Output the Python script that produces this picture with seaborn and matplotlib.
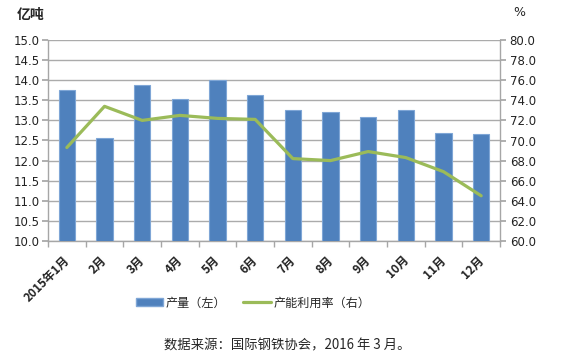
import matplotlib
matplotlib.use("Agg")
import matplotlib.pyplot as plt
import matplotlib.transforms as mtransforms
import seaborn as sns
import pandas as pd
from matplotlib.patches import Patch
from matplotlib.lines import Line2D

months = ["2015年1月", "2月", "3月", "4月", "5月", "6月", "7月", "8月", "9月", "10月", "11月", "12月"]
output = [13.75, 12.55, 13.88, 13.53, 14.0, 13.63, 13.27, 13.2, 13.08, 13.27, 12.68, 12.65]
utilization = [69.3, 73.4, 72.0, 72.5, 72.2, 72.1, 68.2, 68.0, 68.9, 68.3, 66.9, 64.5]
left_ticks = [10.0, 10.5, 11.0, 11.5, 12.0, 12.5, 13.0, 13.5, 14.0, 14.5, 15.0]
right_ticks = [60.0, 62.0, 64.0, 66.0, 68.0, 70.0, 72.0, 74.0, 76.0, 78.0, 80.0]

sns.set_theme(style="white")
plt.rcParams['font.family'] = ['Noto Sans CJK SC', 'DejaVu Sans']

df = pd.DataFrame({"month": months, "output": output, "util": utilization})

fig = plt.figure(figsize=(5.76, 3.61), dpi=100)
ax = fig.add_axes([48/576, 1-241/361, (500-48)/576, (241-40)/361])

sns.barplot(data=df, x="month", y="output", ax=ax, color="#4F81BD", width=0.43,
            edgecolor="#7FA6D6", linewidth=0.8, saturation=1, zorder=3)
ax.set_ylim(10, 15)
ax.set_xlim(-0.5, 11.5)
ax.set_yticks(left_ticks)
ax.set_yticklabels([f"{v:.1f}" for v in left_ticks], fontsize=8.5, color="#222222",
                   family=['DejaVu Sans'])
ax.yaxis.grid(True, color="#ABABAB", linewidth=1.0, zorder=0)
ax.set_axisbelow(True)
ax.set_xlabel("")
ax.set_ylabel("")

ax.set_xticks(range(12))
ax.set_xticklabels(months, rotation=45, ha="right", rotation_mode="anchor",
                   fontsize=8.5, fontweight="bold", color="#222222")
ax.tick_params(axis="x", which="major", length=0, pad=4)
offset = mtransforms.ScaledTranslation(-4/100, -7/100, fig.dpi_scale_trans)
for lbl in ax.get_xticklabels():
    lbl.set_transform(lbl.get_transform() + offset)
ax.set_xticks([i - 0.5 for i in range(13)], minor=True)
ax.tick_params(axis="x", which="minor", length=4, color="#A6A6A6", direction="out", bottom=True)
ax.tick_params(axis="y", which="major", length=4, color="#A6A6A6", left=True, pad=2)

for s in ["top", "right"]:
    ax.spines[s].set_visible(False)
for s in ["left", "bottom"]:
    ax.spines[s].set_color("#A6A6A6")
    ax.spines[s].set_linewidth(1.0)

ax2 = ax.twinx()
sns.lineplot(x=list(range(12)), y=df["util"], ax=ax2, color="#9BBB59", linewidth=2.3, zorder=4)
ax2.set_ylim(60, 80)
ax2.set_yticks(right_ticks)
ax2.set_yticklabels([f"{v:.1f}" for v in right_ticks], fontsize=8.5, color="#222222",
                    family=['DejaVu Sans'])
ax2.tick_params(axis="y", length=4, color="#A6A6A6", right=True, pad=3)
ax2.set_ylabel("")
for s in ["top", "left", "bottom"]:
    ax2.spines[s].set_visible(False)
ax2.spines["right"].set_color("#A6A6A6")
ax2.spines["right"].set_linewidth(1.0)

fig.text(17/576, 1-15/361, "亿吨", fontsize=10, fontweight="bold", va="center", ha="left")
fig.text(519/576, 1-12/361, "%", fontsize=9, va="center", ha="center", family=['DejaVu Sans'])

handles = [Patch(facecolor="#4F81BD", edgecolor="#7FA6D6"),
           Line2D([0], [0], color="#9BBB59", linewidth=2.3)]
fig.legend(handles, ["产量（左）", "产能利用率（右）"], loc="center",
           bbox_to_anchor=(253/576, 1-303/361), ncol=2, frameon=False, fontsize=8.7,
           handlelength=2.3, handleheight=0.6, columnspacing=1.4, handletextpad=0.2)

fig.text(287/576, 1-345/361, "数据来源：国际钢铁协会，2016 年 3 月。", fontsize=9.6,
         ha="center", va="center")

fig.savefig("out.png", dpi=100)
